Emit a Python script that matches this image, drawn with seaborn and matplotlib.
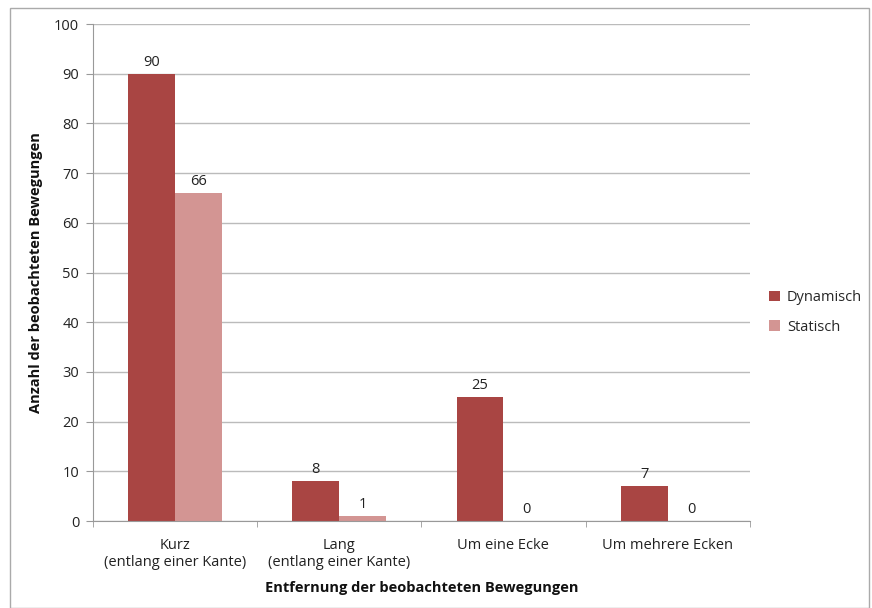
import pandas as pd
import seaborn as sns
import matplotlib.pyplot as plt
from matplotlib.patches import Rectangle

# Chart data
categories = ["Kurz\n(entlang einer Kante)", "Lang\n(entlang einer Kante)",
              "Um eine Ecke", "Um mehrere Ecken"]
dynamisch = [90, 8, 25, 7]
statisch = [66, 1, 0, 0]
series_names = ["Dynamisch", "Statisch"]

df = pd.DataFrame({
    "Kategorie": categories * 2,
    "Wert": dynamisch + statisch,
    "Serie": [series_names[0]] * 4 + [series_names[1]] * 4,
})

sns.set_style("white")
plt.rcParams['font.family'] = ['Open Sans', 'DejaVu Sans']

fig = plt.figure(figsize=(8.72, 6.08), dpi=100)
ax = fig.add_axes([0.1067, 0.143, 0.753, 0.8175])

sns.barplot(data=df, x="Kategorie", y="Wert", hue="Serie",
            palette=["#A94543", "#D39593"], width=0.57,
            saturation=1, linewidth=0, ax=ax, legend=True)

for cont in ax.containers:
    ax.bar_label(cont, fontsize=10.5, color="#222222", padding=3)

ax.set_ylim(0, 100)
ax.set_xlim(-0.5, 3.5)
ax.set_yticks(range(0, 101, 10))
ax.yaxis.grid(True, color="#BBBBBB", linewidth=1)
ax.set_axisbelow(True)
for side in ["top", "right"]:
    ax.spines[side].set_visible(False)
ax.spines["left"].set_color("#999999")
ax.spines["bottom"].set_color("#999999")
ax.tick_params(axis="y", which="major", left=True, length=5, color="#999999",
               labelsize=10.5, labelcolor="#222222", pad=5)
ax.tick_params(axis="x", which="major", length=0, labelsize=10.5,
               labelcolor="#222222", pad=12)
ax.set_xticks([-0.5, 0.5, 1.5, 2.5, 3.5], minor=True)
ax.tick_params(axis="x", which="minor", bottom=True, length=4, color="#999999")

ax.set_xlabel("Entfernung der beobachteten Bewegungen", fontsize=10.5,
              fontweight="bold", color="#111111", labelpad=8)
ax.set_ylabel("Anzahl der beobachteten Bewegungen", fontsize=10.5,
              fontweight="bold", color="#111111", labelpad=8)

ax.legend(loc="center left", bbox_to_anchor=(1.01, 0.42), frameon=False,
          fontsize=10.5, handlelength=0.7, handleheight=0.7,
          labelspacing=1.0, handletextpad=0.5)

fig.patches.append(Rectangle((0.012, 0.0), 0.985, 0.987, transform=fig.transFigure,
                             fill=False, edgecolor="#AAAAAA", linewidth=1))

fig.savefig("out.png", dpi=100)
